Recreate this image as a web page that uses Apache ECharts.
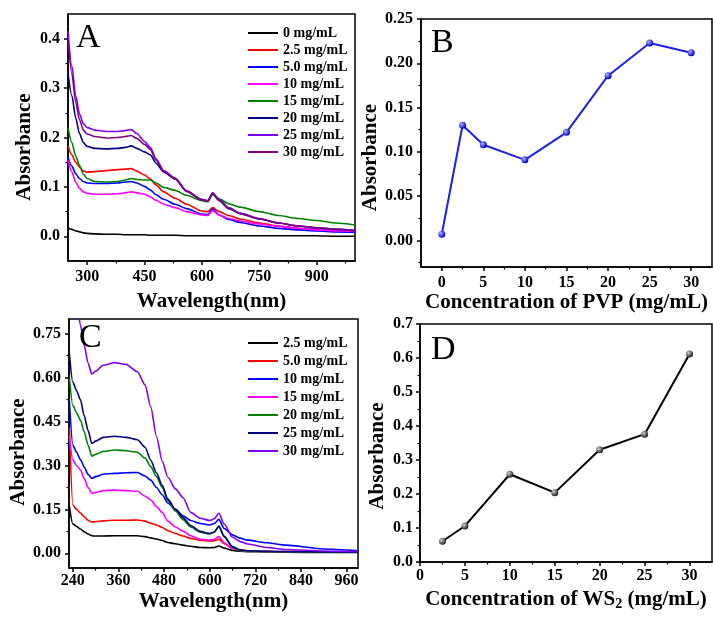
<!DOCTYPE html>
<html>
<head>
<meta charset="utf-8">
<script src="https://cdn.jsdelivr.net/npm/echarts@6/dist/echarts.min.js"></script>
<style>html,body{margin:0;padding:0;background:#fff}#chart{width:713px;height:619px}</style>
</head>
<body>
<div id="chart"></div>
<script>
// ---- panel A: UV-vis spectra vs PVP concentration ----
const A_WL = [250, 260, 270, 280, 290, 300, 320, 350, 380, 400, 415, 430, 450, 465, 480, 500, 530, 560, 600, 615, 628, 645, 670, 700, 750, 800, 850, 900, 950, 1000];
const A_NAMES = ['0 mg/mL', '2.5 mg/mL', '5.0 mg/mL', '10 mg/mL', '15 mg/mL', '20 mg/mL', '25 mg/mL', '30 mg/mL'];
const A_COLORS = ['#000000', '#ff0000', '#0000ff', '#ff00ff', '#008000', '#000080', '#8000ff', '#800080'];
const A_0   = [0.017,0.014,0.011,0.009,0.007,0.006,0.005,0.004,0.004,0.003,0.003,0.003,0.003,0.002,0.002,0.002,0.002,0.001,0.001,0.001,0.001,0.001,0.001,0.001,0.001,0.001,0.001,0.001,0.000,0.000];
const A_2_5 = [0.183,0.165,0.150,0.140,0.132,0.130,0.131,0.133,0.135,0.136,0.137,0.132,0.124,0.116,0.104,0.090,0.077,0.065,0.051,0.050,0.058,0.050,0.042,0.035,0.027,0.021,0.016,0.013,0.011,0.009];
const A_5   = [0.160,0.142,0.127,0.117,0.111,0.108,0.107,0.107,0.108,0.110,0.111,0.108,0.101,0.094,0.084,0.075,0.065,0.056,0.045,0.044,0.055,0.043,0.034,0.028,0.021,0.016,0.013,0.011,0.009,0.008];
const A_10  = [0.155,0.130,0.110,0.097,0.090,0.087,0.085,0.085,0.086,0.088,0.090,0.088,0.085,0.080,0.073,0.065,0.058,0.050,0.043,0.042,0.052,0.043,0.036,0.031,0.025,0.020,0.016,0.013,0.011,0.010];
const A_15  = [0.220,0.190,0.163,0.143,0.126,0.117,0.111,0.110,0.111,0.114,0.117,0.115,0.114,0.114,0.108,0.099,0.093,0.083,0.072,0.070,0.084,0.076,0.066,0.059,0.050,0.042,0.036,0.032,0.027,0.023];
const A_20  = [0.330,0.285,0.240,0.208,0.190,0.182,0.178,0.177,0.178,0.180,0.183,0.178,0.171,0.165,0.148,0.130,0.116,0.091,0.074,0.072,0.087,0.072,0.056,0.046,0.035,0.027,0.021,0.017,0.014,0.012];
const A_25  = [0.415,0.345,0.285,0.248,0.228,0.220,0.215,0.212,0.212,0.214,0.216,0.208,0.192,0.180,0.157,0.133,0.118,0.092,0.075,0.072,0.088,0.074,0.058,0.047,0.036,0.027,0.021,0.017,0.014,0.011];
const A_30  = [0.400,0.330,0.272,0.236,0.215,0.207,0.202,0.199,0.200,0.202,0.204,0.198,0.186,0.176,0.154,0.131,0.117,0.091,0.074,0.071,0.087,0.073,0.057,0.046,0.035,0.027,0.021,0.017,0.014,0.011];
const A_VALUES = [A_0, A_2_5, A_5, A_10, A_15, A_20, A_25, A_30];
const A_XTICKS = [300, 450, 600, 750, 900];
const A_XMINOR = [375, 525, 675, 825, 975];
const A_YTICKS = [0, 0.1, 0.2, 0.3, 0.4];
const A_YMINOR = [0.05, 0.15, 0.25, 0.35];

// ---- panel B: absorbance vs PVP ----
const B_X = [0, 2.5, 5, 10, 15, 20, 25, 30];
const B_Y = [0.007, 0.130, 0.108, 0.091, 0.122, 0.186, 0.223, 0.212];
const B_XTICKS = [0, 5, 10, 15, 20, 25, 30];
const B_XMINOR = [2.5, 7.5, 12.5, 17.5, 22.5, 27.5];
const B_YTICKS = [0, 0.05, 0.10, 0.15, 0.20, 0.25];
const B_YMINOR = [-0.025, 0.025, 0.075, 0.125, 0.175, 0.225];

// ---- panel C: UV-vis spectra vs WS2 concentration ----
const C_WL = [231, 240, 250, 260, 270, 280, 290, 300, 320, 350, 380, 410, 430, 445, 460, 475, 490, 510, 530, 550, 575, 600, 612, 624, 638, 660, 680, 700, 750, 800, 900, 990];
const C_NAMES = ['2.5 mg/mL', '5.0 mg/mL', '10 mg/mL', '15 mg/mL', '20 mg/mL', '25 mg/mL', '30 mg/mL'];
const C_COLORS = ['#000000', '#ff0000', '#0000ff', '#ff00ff', '#008000', '#000080', '#8000ff'];
const C_2_5 = [0.160,0.100,0.092,0.083,0.074,0.066,0.060,0.059,0.059,0.060,0.060,0.060,0.057,0.053,0.049,0.044,0.037,0.033,0.028,0.024,0.020,0.019,0.020,0.025,0.018,0.010,0.007,0.006,0.005,0.004,0.003,0.003];
const C_5   = [0.430,0.165,0.150,0.138,0.125,0.113,0.107,0.108,0.111,0.113,0.113,0.114,0.110,0.103,0.097,0.088,0.077,0.068,0.059,0.051,0.045,0.042,0.043,0.048,0.033,0.017,0.011,0.009,0.007,0.006,0.005,0.004];
const C_10  = [0.520,0.370,0.345,0.320,0.295,0.270,0.256,0.262,0.270,0.273,0.275,0.276,0.264,0.250,0.225,0.200,0.172,0.150,0.128,0.112,0.102,0.097,0.102,0.116,0.085,0.063,0.052,0.045,0.036,0.028,0.015,0.009];
const C_15  = [0.400,0.320,0.300,0.285,0.255,0.225,0.205,0.208,0.214,0.216,0.214,0.212,0.195,0.182,0.160,0.140,0.110,0.090,0.076,0.060,0.048,0.045,0.048,0.057,0.036,0.017,0.010,0.008,0.006,0.005,0.004,0.004];
const C_20  = [0.600,0.505,0.480,0.455,0.415,0.370,0.332,0.338,0.348,0.353,0.350,0.345,0.325,0.296,0.262,0.225,0.180,0.145,0.115,0.090,0.072,0.066,0.072,0.093,0.058,0.020,0.010,0.008,0.006,0.005,0.004,0.004];
const C_25  = [0.680,0.585,0.555,0.525,0.470,0.420,0.375,0.383,0.396,0.400,0.396,0.388,0.362,0.318,0.275,0.232,0.185,0.150,0.122,0.095,0.075,0.068,0.073,0.092,0.058,0.023,0.012,0.009,0.007,0.006,0.005,0.004];
const C_30  = [1.000,0.930,0.860,0.780,0.710,0.650,0.612,0.622,0.642,0.651,0.645,0.620,0.575,0.500,0.400,0.315,0.260,0.220,0.190,0.140,0.120,0.112,0.118,0.137,0.100,0.055,0.040,0.032,0.020,0.013,0.008,0.006];
const C_VALUES = [C_2_5, C_5, C_10, C_15, C_20, C_25, C_30];
const C_XTICKS = [240, 360, 480, 600, 720, 840, 960];
const C_XMINOR = [300, 420, 540, 660, 780, 900];
const C_YTICKS = [0, 0.15, 0.30, 0.45, 0.60, 0.75];
const C_YMINOR = [0.075, 0.225, 0.375, 0.525, 0.675];

// ---- panel D: absorbance vs WS2 ----
const D_X = [2.5, 5, 10, 15, 20, 25, 30];
const D_Y = [0.061, 0.106, 0.258, 0.204, 0.330, 0.376, 0.612];
const D_XTICKS = [0, 5, 10, 15, 20, 25, 30];
const D_XMINOR = [2.5, 7.5, 12.5, 17.5, 22.5, 27.5];
const D_YTICKS = [0, 0.1, 0.2, 0.3, 0.4, 0.5, 0.6, 0.7];
const D_YMINOR = [0.05, 0.15, 0.25, 0.35, 0.45, 0.55, 0.65];

const FONT = 'Liberation Serif';
const nameStyle = { fontFamily: FONT, fontWeight: 'bold', fontSize: 21, color: '#000' };

function major(gridIndex, position, min, max, ticks, fmt, margin, name, nameGap, namePad) {
  return {
    type: 'value', gridIndex, position, min, max,
    axisLine: { show: true, onZero: false, lineStyle: { color: '#000', width: 1.5 } },
    axisTick: { show: true, length: 4, customValues: ticks, lineStyle: { color: '#000', width: 1.5 } },
    axisLabel: { customValues: ticks, formatter: fmt, margin, fontFamily: FONT, fontWeight: 'bold', fontSize: 16, color: '#000' },
    splitLine: { show: false },
    name, nameLocation: 'middle', nameGap,
    nameTextStyle: Object.assign({ padding: namePad }, nameStyle)
  };
}
function minor(gridIndex, position, min, max, ticks) {
  return {
    type: 'value', gridIndex, position, min, max,
    axisLine: { show: false, onZero: false },
    axisTick: { show: true, length: 2.5, customValues: ticks, lineStyle: { color: '#000', width: 1.2 } },
    axisLabel: { show: false },
    splitLine: { show: false }
  };
}
const f1 = v => v.toFixed(1);
const f2 = v => v.toFixed(2);
const f0 = v => String(v);

const gridBox = { show: true, borderColor: '#000', borderWidth: 1.5 };
const letter = (t, left, top) => ({ text: t, left, top, padding: 0,
  textStyle: { fontFamily: FONT, fontSize: 34, fontWeight: 'normal', color: '#000' } });
const legendText = { fontFamily: FONT, fontWeight: 'bold', fontSize: 14, color: '#000' };

const series = [];
A_NAMES.forEach((n, i) => series.push({
  name: 'A:' + n, type: 'line', xAxisIndex: 0, yAxisIndex: 0, showSymbol: false, symbol: 'none',
  smooth: 0.25, smoothMonotone: 'x', color: A_COLORS[i], lineStyle: { width: 1.6 },
  data: A_WL.map((w, k) => [w, A_VALUES[i][k]])
}));
series.push({
  name: 'B', type: 'line', xAxisIndex: 2, yAxisIndex: 2, symbol: 'circle', symbolSize: 7,
  lineStyle: { color: '#1f1fee', width: 2 },
  itemStyle: { color: new echarts.graphic.RadialGradient(0.35, 0.35, 0.65, [{ offset: 0, color: '#b0b0ff' }, { offset: 1, color: '#0000c8' }]) },
  data: B_X.map((x, k) => [x, B_Y[k]])
});
C_NAMES.forEach((n, i) => series.push({
  name: 'C:' + n, type: 'line', xAxisIndex: 4, yAxisIndex: 4, showSymbol: false, symbol: 'none',
  smooth: 0.25, smoothMonotone: 'x', color: C_COLORS[i], lineStyle: { width: 1.6 },
  data: C_WL.map((w, k) => [w, C_VALUES[i][k]])
}));
series.push({
  name: 'D', type: 'line', xAxisIndex: 6, yAxisIndex: 6, symbol: 'circle', symbolSize: 7,
  lineStyle: { color: '#000', width: 2 },
  itemStyle: { color: new echarts.graphic.RadialGradient(0.35, 0.35, 0.65, [{ offset: 0, color: '#d0d0d0' }, { offset: 1, color: '#202020' }]) },
  data: D_X.map((x, k) => [x, D_Y[k]])
});

const chart = echarts.init(document.getElementById('chart'));
chart.setOption({
  animation: false,
  backgroundColor: '#fff',
  title: [letter('A', 76, 21), letter('B', 431, 26), letter('C', 79, 321), letter('D', 431, 333)],
  grid: [
    Object.assign({ left: 68, top: 14, width: 287, height: 247 }, gridBox),
    Object.assign({ left: 421, top: 19, width: 291, height: 248 }, gridBox),
    Object.assign({ left: 69, top: 319, width: 289, height: 249 }, gridBox),
    Object.assign({ left: 420, top: 324, width: 292, height: 238 }, gridBox)
  ],
  xAxis: [
    major(0, 'bottom', 250, 1000, A_XTICKS, f0, 8, 'Wavelength(nm)', 30, 0),
    minor(0, 'bottom', 250, 1000, A_XMINOR),
    major(1, 'bottom', -2.5, 32.5, B_XTICKS, f0, 8, 'Concentration of PVP (mg/mL)', 22, 0),
    minor(1, 'bottom', -2.5, 32.5, B_XMINOR),
    major(2, 'bottom', 230, 990, C_XTICKS, f0, 5, 'Wavelength(nm)', 23, 0),
    minor(2, 'bottom', 230, 990, C_XMINOR),
    Object.assign(major(3, 'bottom', 0, 32.5, D_XTICKS, f0, 6, '{n|Concentration of WS}{s|2}{n| (mg/mL)}', 18, 0), {
      nameTextStyle: {
        rich: {
          n: { fontFamily: FONT, fontWeight: 'bold', fontSize: 21, color: '#000', verticalAlign: 'top', lineHeight: 22 },
          s: { fontFamily: FONT, fontWeight: 'bold', fontSize: 14, color: '#000', verticalAlign: 'bottom', lineHeight: 14, padding: [12, 0, 0, 0] }
        }
      }
    }),
    minor(3, 'bottom', 0, 32.5, D_XMINOR)
  ],
  yAxis: [
    major(0, 'left', -0.05, 0.45, A_YTICKS, f1, 8, 'Absorbance', 33, [0, 19, 0, 0]),
    minor(0, 'left', -0.05, 0.45, A_YMINOR),
    major(1, 'left', -0.03, 0.25, B_YTICKS, f2, 8, 'Absorbance', 39, [0, 29, 0, 0]),
    minor(1, 'left', -0.03, 0.25, B_YMINOR),
    major(2, 'left', -0.05, 0.8, C_YTICKS, f2, 8, 'Absorbance', 39, [0, 17, 0, 0]),
    minor(2, 'left', -0.05, 0.8, C_YMINOR),
    major(3, 'left', 0, 0.7, D_YTICKS, f1, 7, 'Absorbance', 32, [0, 26, 0, 0]),
    minor(3, 'left', 0, 0.7, D_YMINOR)
  ],
  legend: [
    { data: A_NAMES.map(n => 'A:' + n), left: 243, top: 21, orient: 'vertical', itemGap: 3,
      itemWidth: 30, itemHeight: 2, icon: 'rect', selectedMode: false,
      formatter: n => n.slice(2), textStyle: legendText },
    { data: C_NAMES.map(n => 'C:' + n), left: 243, top: 331, orient: 'vertical', itemGap: 4,
      itemWidth: 30, itemHeight: 2, icon: 'rect', selectedMode: false,
      formatter: n => n.slice(2), textStyle: legendText }
  ],
  series
});
</script>
</body>
</html>
